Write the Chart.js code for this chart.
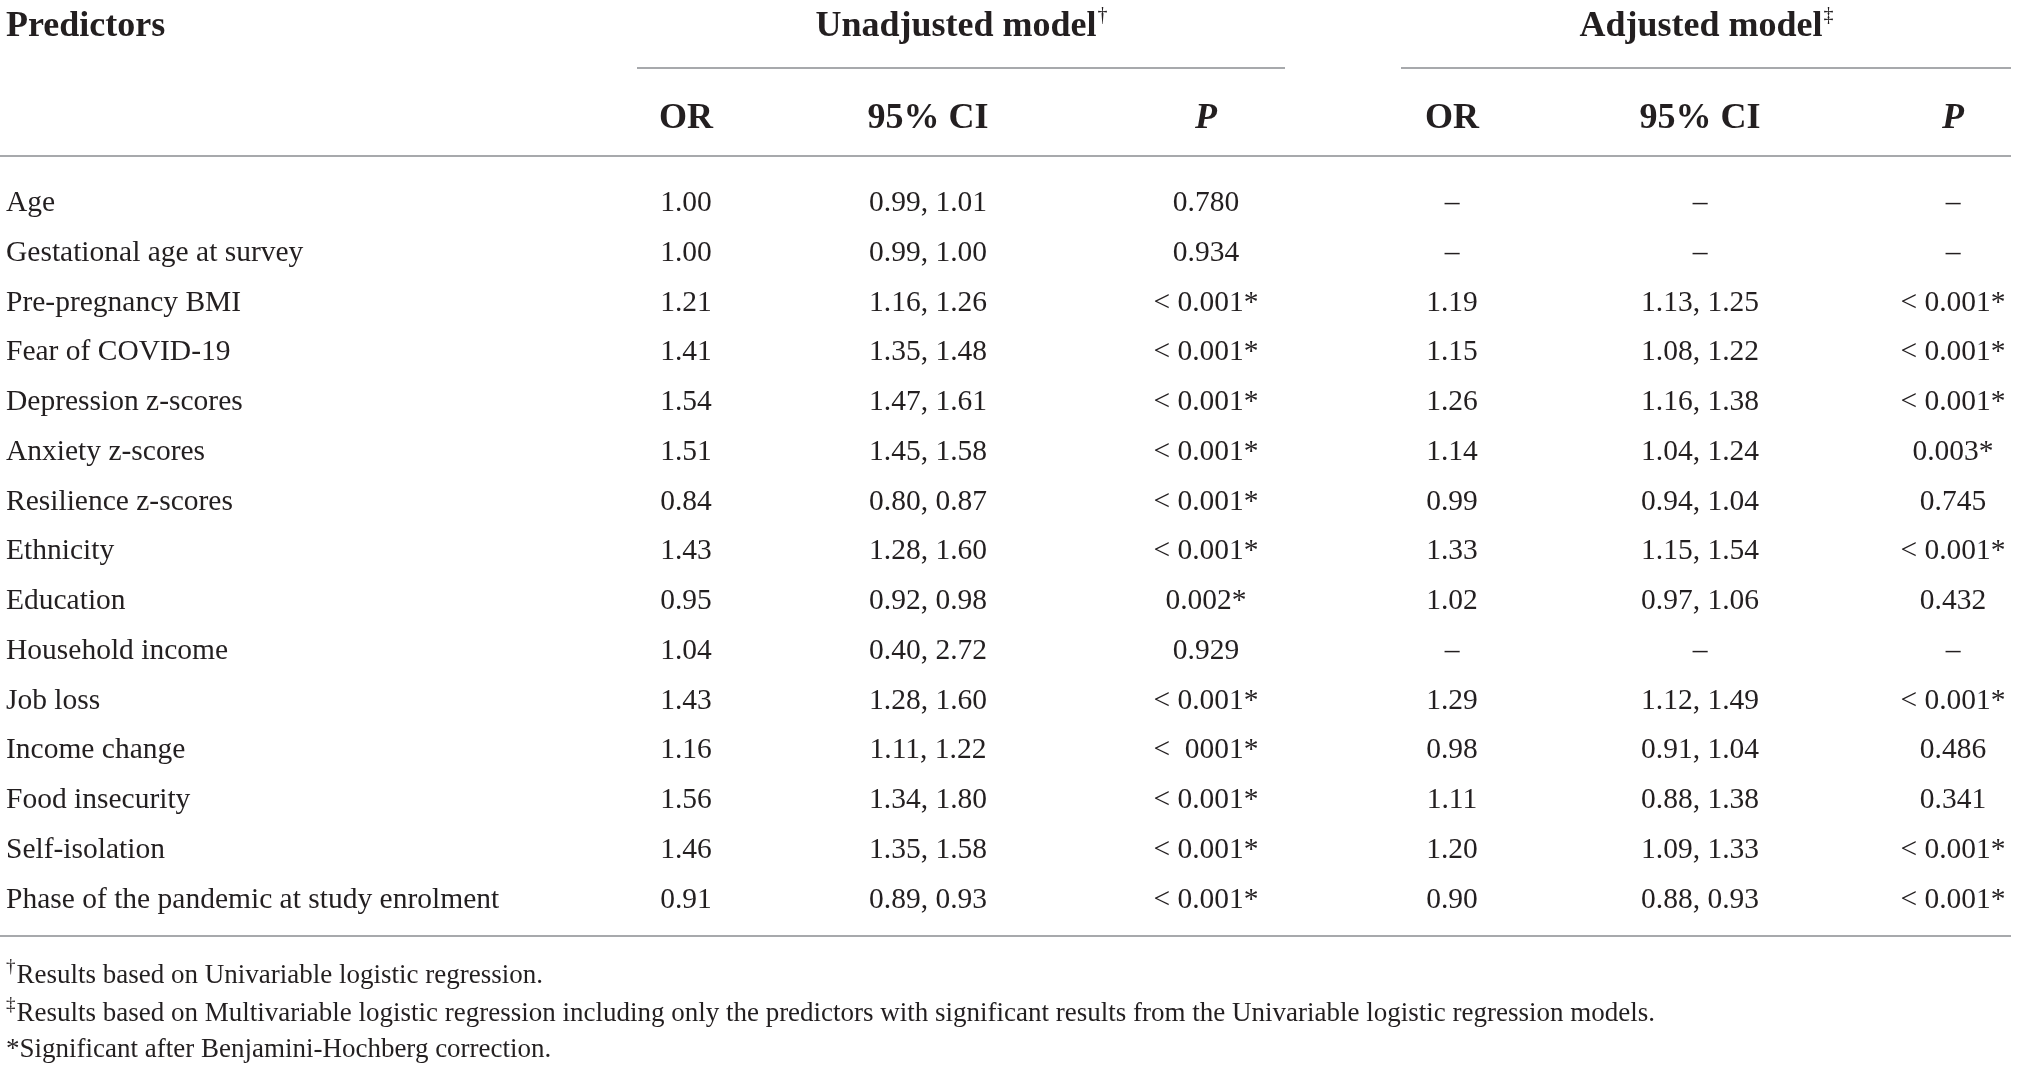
<!DOCTYPE html>
<html>
<head>
<meta charset="utf-8">
<script src="https://cdn.jsdelivr.net/npm/chart.js"></script>
<style>
  html, body { margin: 0; padding: 0; background: #fff; }
  #wrap { width: 2019px; height: 1070px; position: relative; }
</style>
</head>
<body>
<div id="wrap"><canvas id="orTable"></canvas></div>
<script>
// Table data
const predictors = ['Age', 'Gestational age at survey', 'Pre-pregnancy BMI', 'Fear of COVID-19',
    'Depression z-scores', 'Anxiety z-scores', 'Resilience z-scores', 'Ethnicity', 'Education',
    'Household income', 'Job loss', 'Income change', 'Food insecurity', 'Self-isolation',
    'Phase of the pandemic at study enrolment'];

const unadjOR   = [1.00, 1.00, 1.21, 1.41, 1.54, 1.51, 0.84, 1.43, 0.95, 1.04, 1.43, 1.16, 1.56, 1.46, 0.91];
const unadjLow  = [0.99, 0.99, 1.16, 1.35, 1.47, 1.45, 0.80, 1.28, 0.92, 0.40, 1.28, 1.11, 1.34, 1.35, 0.89];
const unadjHigh = [1.01, 1.00, 1.26, 1.48, 1.61, 1.58, 0.87, 1.60, 0.98, 2.72, 1.60, 1.22, 1.80, 1.58, 0.93];
const unadjP    = ['0.780', '0.934', '< 0.001*', '< 0.001*', '< 0.001*', '< 0.001*', '< 0.001*', '< 0.001*',
    '0.002*', '0.929', '< 0.001*', '<  0001*', '< 0.001*', '< 0.001*', '< 0.001*'];

const adjOR   = [null, null, 1.19, 1.15, 1.26, 1.14, 0.99, 1.33, 1.02, null, 1.29, 0.98, 1.11, 1.20, 0.90];
const adjLow  = [null, null, 1.13, 1.08, 1.16, 1.04, 0.94, 1.15, 0.97, null, 1.12, 0.91, 0.88, 1.09, 0.88];
const adjHigh = [null, null, 1.25, 1.22, 1.38, 1.24, 1.04, 1.54, 1.06, null, 1.49, 1.04, 1.38, 1.33, 0.93];
const adjP    = [null, null, '< 0.001*', '< 0.001*', '< 0.001*', '0.003*', '0.745', '< 0.001*',
    '0.432', null, '< 0.001*', '0.486', '0.341', '< 0.001*', '< 0.001*'];

const columnHeaders = ['OR', '95% CI', 'P', 'OR', '95% CI', 'P'];
const groupHeaders = ['Unadjusted model', 'Adjusted model'];
const groupMarks = ['\u2020', '\u2021'];
const footnotes = [
    ['\u2020', 'Results based on Univariable logistic regression.'],
    ['\u2021', 'Results based on Multivariable logistic regression including only the predictors with significant results from the Univariable logistic regression models.'],
    ['', '*Significant after Benjamini-Hochberg correction.']
];

// Layout (x in page px, y in row units)
const colX = [6, 686, 928, 1206, 1452, 1700, 1953];
const groupSpan = [[637, 1285], [1401, 2011]];
const rowTop = 201, rowStep = 49.75;
const yGroup = -3.5, yGroupRule = -2.68, yColHead = -1.66, yHeadRule = -0.9;
const yBottomRule = 14.77, yNotes = [15.58, 16.34, 17.07];

const SERIF = '"Liberation Serif", "DejaVu Serif", serif';
const INK = '#231f20';
const RULE = '#a7a9ac';
const BODY = '29.5px ';
const HEAD = 'bold 36px ';

const fmt = v => v === null ? '\u2013' : v.toFixed(2);
const ci = (lo, hi) => lo === null ? '\u2013' : lo.toFixed(2) + ', ' + hi.toFixed(2);

const columnText = [
    predictors,
    unadjOR.map(fmt),
    unadjLow.map((v, i) => ci(v, unadjHigh[i])),
    unadjP,
    adjOR.map(fmt),
    adjLow.map((v, i) => ci(v, adjHigh[i])),
    adjP.map(v => v === null ? '\u2013' : v)
];

const datasets = columnText.map((col, c) => ({
    label: c === 0 ? 'Predictors' : columnHeaders[c - 1],
    data: col.map((_, i) => ({ x: colX[c], y: i + 0.05 })),
    pointRadius: 0,
    showLine: false
}));

const tablePlugin = {
    id: 'tablePlugin',
    afterDatasetsDraw(chart) {
        const ctx = chart.ctx;
        const xs = chart.scales.x, ys = chart.scales.y;
        ctx.save();
        ctx.fillStyle = INK;
        ctx.textBaseline = 'middle';

        // body cells
        chart.data.datasets.forEach((ds, c) => {
            const meta = chart.getDatasetMeta(c);
            ctx.font = BODY + SERIF;
            ctx.textAlign = c === 0 ? 'left' : 'center';
            meta.data.forEach((el, i) => {
                ctx.fillText(columnText[c][i], el.x, el.y);
            });
        });

        // header: Predictors
        ctx.font = HEAD + SERIF;
        ctx.textAlign = 'left';
        ctx.fillText('Predictors', xs.getPixelForValue(colX[0]), ys.getPixelForValue(yGroup));

        // group headers with marks
        groupHeaders.forEach((g, k) => {
            const cx = xs.getPixelForValue((groupSpan[k][0] + groupSpan[k][1]) / 2);
            ctx.font = HEAD + SERIF;
            const w1 = ctx.measureText(g).width;
            ctx.font = '20px ' + SERIF;
            const w2 = ctx.measureText(groupMarks[k]).width;
            const x0 = cx - (w1 + w2) / 2;
            const y = ys.getPixelForValue(yGroup);
            ctx.textAlign = 'left';
            ctx.font = HEAD + SERIF;
            ctx.fillText(g, x0, y);
            ctx.font = '20px ' + SERIF;
            ctx.fillText(groupMarks[k], x0 + w1 + 1, y - 11);
        });

        // column headers
        ctx.textAlign = 'center';
        columnHeaders.forEach((h, k) => {
            ctx.font = (h === 'P' ? 'italic ' : '') + HEAD + SERIF;
            ctx.fillText(h, xs.getPixelForValue(colX[k + 1]), ys.getPixelForValue(yColHead));
        });

        // rules
        ctx.strokeStyle = RULE;
        ctx.lineWidth = 2;
        const hline = (a, b, yv) => {
            const y = Math.round(ys.getPixelForValue(yv));
            ctx.beginPath();
            ctx.moveTo(xs.getPixelForValue(a), y);
            ctx.lineTo(xs.getPixelForValue(b), y);
            ctx.stroke();
        };
        groupSpan.forEach(s => hline(s[0], s[1], yGroupRule));
        hline(0, 2011, yHeadRule);
        hline(0, 2011, yBottomRule);

        // footnotes
        ctx.textAlign = 'left';
        footnotes.forEach((f, k) => {
            const y = ys.getPixelForValue(yNotes[k]);
            let x = xs.getPixelForValue(colX[0]);
            if (f[0]) {
                ctx.font = '19px ' + SERIF;
                ctx.fillText(f[0], x, y - 9);
                x += ctx.measureText(f[0]).width + 1;
            }
            ctx.font = '27px ' + SERIF;
            ctx.fillText(f[1], x, y);
        });
        ctx.restore();
    }
};

new Chart(document.getElementById('orTable'), {
    type: 'scatter',
    data: { datasets: datasets },
    options: {
        responsive: true,
        maintainAspectRatio: false,
        animation: false,
        events: [],
        layout: { padding: 0 },
        plugins: { legend: { display: false }, tooltip: { enabled: false } },
        scales: {
            x: { type: 'linear', display: false, min: 0, max: 2019 },
            y: { type: 'linear', display: false, reverse: true,
                 min: -rowTop / rowStep, max: (1070 - rowTop) / rowStep }
        }
    },
    plugins: [tablePlugin]
});
</script>
</body>
</html>
